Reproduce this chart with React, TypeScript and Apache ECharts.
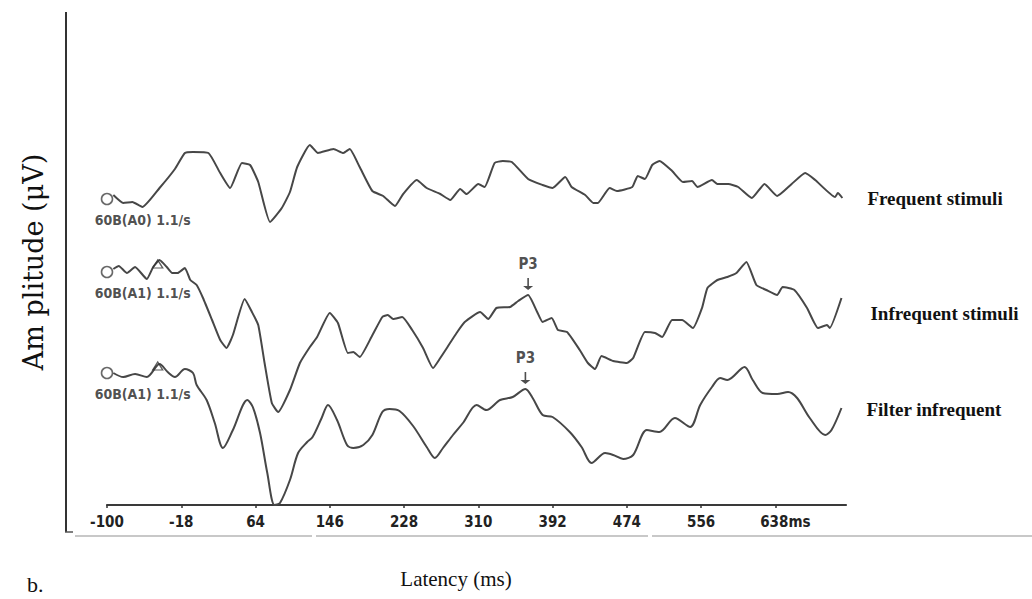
import React, { useEffect, useRef } from 'react';
import * as echarts from 'echarts';

// Latency tick labels (ms)
const latencyTicks = [-100, -18, 64, 146, 228, 310, 392, 474, 556, 638];

// Traces: [latency (ms), amplitude relative to the trace baseline]
const frequentStimuli: [number, number][] = [
  [-93, 2], [-82, -2], [-72, -1.5], [-61, -4], [-42, 5.5], [-25, 15], [-14, 23], [-5, 23.5], [12, 23], [25, 13],
  [36, 5.5], [49, 18], [58, 17], [67, 8.5], [80, -11.5], [93, -4.5], [102, 3.5], [110, 16], [124, 27], [133, 23],
  [150, 25], [161, 23], [168, 25], [179, 16], [193, 4], [205, 1.5], [218, -3.5], [227, 2.5], [242, 9.5], [253, 5.5],
  [268, 2.5], [279, -0.5], [290, 5], [297, 2.5], [310, 7.5], [317, 6], [328, 18], [337, 19], [347, 18.5], [365, 10],
  [381, 7], [392, 5.5], [406, 11], [413, 6], [428, 2], [437, -2], [442, -2], [455, 5.5], [463, 4], [480, 6],
  [486, 11.5], [494, 10], [502, 17], [510, 19], [524, 14], [536, 8.5], [546, 9], [552, 6], [568, 9.5], [574, 7.5],
  [586, 7.5], [597, 6], [612, 0.5], [626, 7.5], [640, 1.5], [656, 7.5], [671, 13], [682, 9.5], [704, 1], [707, 3],
  [712, 0.5],
];

const infrequentStimuli: [number, number][] = [
  [-93, 1.5], [-87, 3], [-78, -0.5], [-69, 2.5], [-56, -3.5], [-49, 2.5], [-42, 6], [-34, 2.5], [-28, -0.5], [-22, -0.5],
  [-14, 2], [-8, -4], [-1, -6.5], [6, -13], [16, -24], [25, -34], [32, -38], [39, -31.5], [52, -13.5], [60, -20],
  [67, -26.5], [74, -45.5], [82, -65.5], [89, -70], [102, -59], [113, -45.5], [124, -37.5], [132, -32.5], [146, -20.5], [155, -25.5],
  [166, -40.5], [172, -40], [179, -42.5], [192, -32.5], [204, -22.5], [210, -21.5], [216, -23.5], [226, -22.5], [237, -29], [249, -38],
  [260, -48], [268, -43], [276, -37.5], [286, -30.5], [295, -25], [312, -20], [321, -23.5], [330, -18], [345, -17.5], [354, -14.5],
  [365, -11.5], [375, -20], [381, -25], [391, -23], [398, -29], [408, -30], [422, -39], [431, -45.5], [439, -48.5], [446, -42],
  [459, -44.5], [474, -45.5], [481, -43], [494, -30], [505, -30.5], [513, -32.5], [524, -24], [535, -24], [547, -28], [557, -18],
  [563, -8], [574, -4], [585, -2.5], [595, -0.5], [606, 5], [617, -6.5], [628, -9], [640, -11.5], [646, -7.5], [659, -9],
  [673, -18], [685, -28], [695, -26.5], [698, -28], [711, -13],
];

const filterInfrequent: [number, number][] = [
  [-93, 0], [-82, -2], [-69, -0.5], [-56, -2], [-42, 4.5], [-33, 0.5], [-25, -2], [-14, 2], [-5, 0], [-1, -6],
  [10, -13.5], [19, -25], [28, -37.5], [39, -28.5], [55, -13.5], [61, -17], [69, -30], [77, -50], [85, -66], [91, -65],
  [102, -53.5], [111, -40], [121, -34.5], [127, -32], [137, -22.5], [144, -16], [154, -23.5], [165, -36], [172, -37.5], [183, -36],
  [193, -31], [204, -19.5], [212, -18], [223, -19], [238, -26.5], [253, -37], [262, -42.5], [271, -37.5], [282, -31], [293, -25],
  [308, -16], [319, -18.5], [334, -13.5], [348, -12], [362, -8], [370, -12.5], [381, -21], [392, -22], [411, -29.5], [424, -37],
  [435, -45], [450, -40], [459, -41], [470, -43], [481, -41], [496, -28.5], [510, -29.5], [527, -22.5], [544, -27], [555, -16],
  [568, -7], [577, -2.5], [585, -3.5], [604, 3], [613, -3.5], [624, -10], [640, -10.5], [652, -9.5], [662, -12.5], [676, -22.5],
  [693, -31], [700, -28.5], [711, -17.5],
];

const traceNames = ['Frequent stimuli', 'Infrequent stimuli', 'Filter infrequent'];
const traceBaselines = [153, 116.5, 66];
const channelLabels = ['60B(A0) 1.1/s', '60B(A1) 1.1/s', '60B(A1) 1.1/s'];
const stimulusMarkLatency = -44;
const stimulusMarkAmp = [null, 4, 3.5];
const p3Latency = [null, 365, 362];
const p3Amp = [null, -11.5, -8];

const NARROW = "'Liberation Sans Narrow', 'DejaVu Sans Condensed', 'Arial Narrow', 'Liberation Sans', sans-serif";
const SERIF = "'Liberation Serif', 'DejaVu Serif', serif";
const WIDE_SERIF = "'DejaVu Serif', serif";
const TRACE_COLOR = '#474747';

export default function App() {
  const ref = useRef<HTMLDivElement>(null);
  useEffect(() => {
    const chart = echarts.init(ref.current!, null, { renderer: 'svg' });
    const traces = [frequentStimuli, infrequentStimuli, filterInfrequent];
    const endDistance = [25, 29, 25];
    const endOffset = [0, 15, 1];
    const smoothness = [0.15, 0.15, 0.3];

    const lineSeries = traces.map((t, i) => ({
      type: 'line',
      name: traceNames[i],
      data: t.map(([x, y]) => [x, y + traceBaselines[i]]),
      showSymbol: false,
      smooth: smoothness[i],
      clip: false,
      lineStyle: { color: TRACE_COLOR, width: 2 },
      endLabel: {
        show: true,
        formatter: traceNames[i],
        distance: endDistance[i],
        offset: [0, endOffset[i]],
        color: '#111',
        fontFamily: SERIF,
        fontWeight: 'bold',
        fontSize: 19,
      },
    }));

    const startMarks = {
      type: 'scatter',
      clip: false,
      symbol: 'circle',
      symbolSize: 11,
      itemStyle: { color: '#fff', borderColor: '#444', borderWidth: 1.6 },
      label: {
        show: true,
        position: [-6, 27],
        align: 'left',
        verticalAlign: 'middle',
        fontFamily: NARROW,
        fontWeight: 'bold',
        fontSize: 14,
        color: '#222',
        formatter: (p: any) => channelLabels[p.dataIndex],
      },
      data: traceBaselines.map((b) => [-100, b]),
      z: 5,
    };

    const stimMarks = {
      type: 'scatter',
      clip: false,
      symbol: 'triangle',
      symbolSize: [10, 8],
      itemStyle: { color: 'rgba(255,255,255,0)', borderColor: '#333', borderWidth: 1.3 },
      data: stimulusMarkAmp
        .map((a, i) => (a === null ? null : [stimulusMarkLatency, a + traceBaselines[i]]))
        .filter((d) => d !== null),
      z: 5,
    };

    const p3Marks = {
      type: 'scatter',
      clip: false,
      symbol: 'path://M4.2,0 H5.8 V8 H10 L5,12 L0,8 H4.2 Z',
      symbolSize: [10, 12],
      symbolOffset: [0, -11],
      itemStyle: { color: '#222' },
      label: {
        show: true,
        position: 'top',
        distance: 7,
        formatter: 'P3',
        fontFamily: NARROW,
        fontWeight: 'bold',
        fontSize: 15,
        color: '#222',
      },
      data: p3Latency
        .map((l, i) => (l === null ? null : [l, (p3Amp[i] as number) + traceBaselines[i]]))
        .filter((d) => d !== null),
      z: 5,
    };

    chart.setOption({
      animation: false,
      backgroundColor: '#ffffff',
      grid: { left: 107, right: 186, top: 5, bottom: 94 },
      xAxis: {
        type: 'value',
        min: -100,
        max: 716,
        axisLine: { show: true, onZero: false, lineStyle: { color: '#3a3a3a', width: 2.2 } },
        axisTick: { show: true, customValues: latencyTicks, length: 3, lineStyle: { color: '#333', width: 1.5 } },
        splitLine: { show: false },
        axisLabel: {
          customValues: latencyTicks,
          margin: 9,
          fontFamily: NARROW,
          fontWeight: 'bold',
          fontSize: 15,
          color: '#222',
          formatter: (v: number) => (v === 638 ? '{g|}638ms' : String(v)),
          rich: { g: { width: 20 } },
        },
      },
      yAxis: { type: 'value', min: 0, max: 250, show: false },
      graphic: [
        { type: 'line', shape: { x1: 66, y1: 12, x2: 66, y2: 532 }, style: { stroke: '#333', lineWidth: 2 } },
        { type: 'line', shape: { x1: 65, y1: 532, x2: 73, y2: 532 }, style: { stroke: '#555', lineWidth: 1.5 } },
        { type: 'line', shape: { x1: 75, y1: 536, x2: 312, y2: 536 }, style: { stroke: '#c8c8c8', lineWidth: 2 } },
        { type: 'line', shape: { x1: 316, y1: 536, x2: 648, y2: 536 }, style: { stroke: '#c8c8c8', lineWidth: 2 } },
        { type: 'line', shape: { x1: 652, y1: 536, x2: 1032, y2: 536 }, style: { stroke: '#c8c8c8', lineWidth: 2 } },
        {
          type: 'text',
          x: 33,
          y: 262,
          rotation: Math.PI / 2,
          style: {
            text: 'Am plitude (μV)',
            font: `27px ${WIDE_SERIF}`,
            fill: '#111',
            textAlign: 'center',
            textVerticalAlign: 'middle',
          },
        },
        {
          type: 'text',
          x: 456,
          y: 579,
          style: {
            text: 'Latency (ms)',
            font: `21px ${SERIF}`,
            fill: '#111',
            textAlign: 'center',
            textVerticalAlign: 'middle',
          },
        },
        {
          type: 'text',
          x: 27,
          y: 584,
          style: { text: 'b.', font: `22px ${SERIF}`, fill: '#111', textAlign: 'left', textVerticalAlign: 'middle' },
        },
      ],
      series: [...lineSeries, startMarks, stimMarks, p3Marks],
    });
    return () => chart.dispose();
  }, []);
  return (
    <div
      ref={ref}
      style={{ position: 'absolute', left: 0, top: 0, width: 1032, height: 599, background: '#fff' }}
    />
  );
}
